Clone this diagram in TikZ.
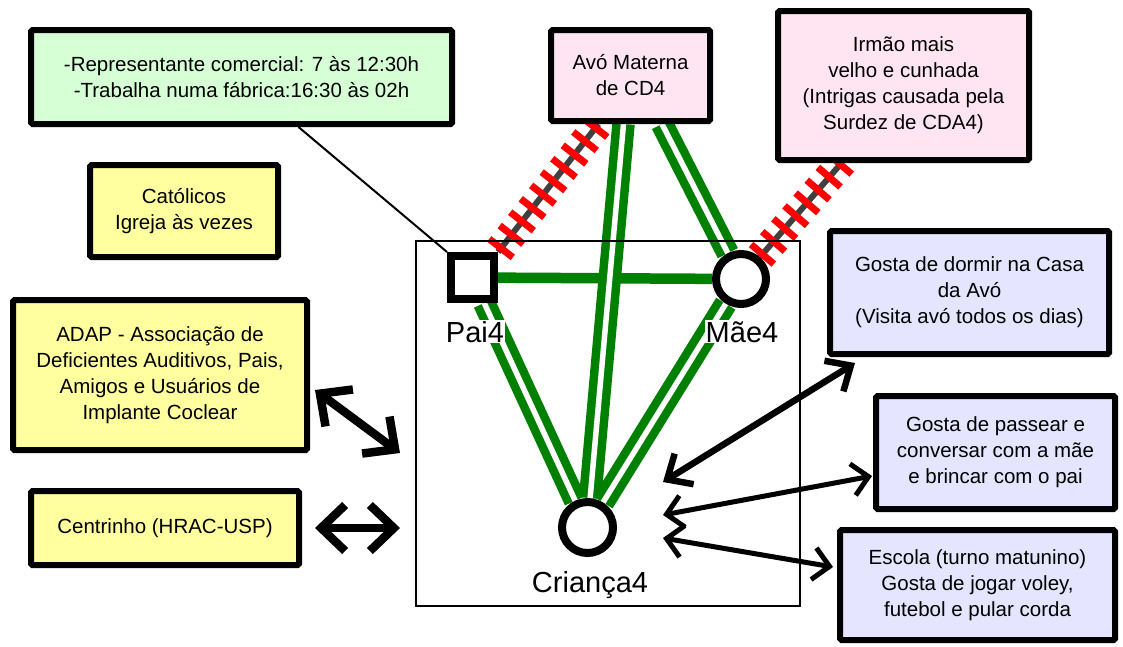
\documentclass[tikz,border=0pt]{standalone}
\usepackage{fontspec}
\setmainfont{Liberation Sans}
\usetikzlibrary{arrows.meta,backgrounds,decorations.markings}
\definecolor{boxgreen}{HTML}{D6FFD6}
\definecolor{boxpink}{HTML}{FFE5F1}
\definecolor{boxyellow}{HTML}{FFFFA0}
\definecolor{boxlav}{HTML}{E5E5FF}
\definecolor{tiegreen}{HTML}{008000}
\definecolor{tiegray}{HTML}{404040}
\begin{document}
\begin{tikzpicture}[x=1pt,y=-1pt,
  infobox/.style={draw=black, line width=6pt, rounded corners=1.5pt, align=center,
    inner sep=0pt, font=\fontsize{20.5}{26}\selectfont},
  member/.style={draw=black, line width=8pt, fill=white, inner sep=0pt},
  lbl/.style={font=\fontsize{29}{34}\selectfont, inner sep=1pt, anchor=base, fill=white},
  tie/.style={draw=tiegreen, line width=10.5pt},
  closetie/.style={draw=tiegreen, line width=8.5pt, double=white, double distance=5.5pt},
  conflict/.style={draw=tiegray, line width=6pt,
    postaction={decorate, decoration={markings,
      mark=between positions 0.03 and 0.99 step 17pt with
        {\draw[red, line width=7pt] (0pt,-15pt) -- (0pt,15pt);}}}},
  bigarrow/.style={draw=black, line width=8.5pt,
    {Straight Barb[length=24pt,width=46pt]}-{Straight Barb[length=24pt,width=46pt]}},
  midarrow/.style={draw=black, line width=6.5pt,
    {Straight Barb[length=20pt,width=36pt]}-{Straight Barb[length=20pt,width=36pt]}},
  smallarrow/.style={draw=black, line width=5pt,
    {Straight Barb[length=16pt,width=32pt]}-{Straight Barb[length=16pt,width=32pt]}},
]
\useasboundingbox (0,0) rectangle (1123,646);

% household frame
\node[draw=black, line width=1.5pt, minimum width=384pt, minimum height=365pt, inner sep=0pt]
  (home) at (608,423.5) {};

% information boxes
\node[infobox, fill=boxgreen, minimum width=421pt, minimum height=94pt] (work) at (241.5,77)
  {-Representante comercial: 7 às 12:30h\\ -Trabalha numa fábrica:16:30 às 02h};
\node[infobox, fill=boxpink, minimum width=159pt, minimum height=91pt] (avo) at (630.5,75.5)
  {Avó Materna\\de CD4};
\node[infobox, fill=boxpink, minimum width=251pt, minimum height=149pt] (irmao) at (903.5,85.5)
  {Irmão mais\\velho e cunhada\\(Intrigas causada pela\\Surdez de CDA4)};
\node[infobox, fill=boxyellow, minimum width=188pt, minimum height=92pt] (igreja) at (184,211)
  {Católicos\\Igreja às vezes};
\node[infobox, fill=boxyellow, minimum width=294pt, minimum height=150pt] (adap) at (160,375)
  {ADAP - Associação de\\Deficientes Auditivos, Pais,\\Amigos e Usuários de\\Implante Coclear};
\node[infobox, fill=boxyellow, minimum width=268pt, minimum height=74pt] (centro) at (165,528)
  {Centrinho (HRAC-USP)};
\node[infobox, fill=boxlav, minimum width=279pt, minimum height=123pt] (dormir) at (969.5,292.5)
  {Gosta de dormir na Casa\\da Avó\\(Visita avó todos os dias)};
\node[infobox, fill=boxlav, minimum width=239pt, minimum height=113pt] (passear) at (995.5,452.5)
  {Gosta de passear e\\conversar com a mãe\\e brincar com o pai};
\node[infobox, fill=boxlav, minimum width=275pt, minimum height=110pt] (escola) at (977.5,585)
  {Escola (turno matunino)\\Gosta de jogar voley,\\futebol e pular corda};

% family members
\node[member, rectangle, minimum size=43pt] (pai) at (472.5,277.5) {};
\node[member, circle, minimum size=50pt] (mae) at (741,279) {};
\node[member, circle, minimum size=51pt] (crianca) at (587.5,527.5) {};
\node[lbl] (pailbl) at (475,342) {Pai4};
\node[lbl] (maelbl) at (742,342) {Mãe4};
\node[lbl] (crilbl) at (590,592) {Criança4};

% relationship lines
\begin{scope}[on background layer]
  \draw[tie] (pai) -- (mae);
  \draw[closetie] (pai) -- (crianca);
  \draw[closetie] (mae) -- (crianca);
  \draw[closetie] ([xshift=-7pt]avo.south) -- (crianca);
  \draw[closetie] ([xshift=31.5pt]avo.south) -- (mae);
  \draw[conflict] (pai.north east) -- ([xshift=-32pt]avo.south);
  \draw[conflict] (mae) -- ([xshift=-62pt]irmao.south);
\end{scope}
\draw[black, line width=2pt] ([xshift=57pt]work.south) -- (pai.north west);

% exchanges with the outside
\coordinate (adapA) at (315,390);
\coordinate (adapB) at (400,453);
\coordinate (centA) at (315,528);
\coordinate (centB) at (400,528);
\coordinate (d1) at (663,482);
\coordinate (d2) at (855,363);
\coordinate (p1) at (663,515);
\coordinate (p2) at (872,476);
\coordinate (e1) at (663,538);
\coordinate (e2) at (833,567);
\draw[bigarrow] (adapA) -- (adapB);
\draw[bigarrow] (centA) -- (centB);
\draw[midarrow] (d1) -- (d2);
\draw[smallarrow] (p1) -- (p2);
\draw[smallarrow] (e1) -- (e2);
\end{tikzpicture}
\end{document}
